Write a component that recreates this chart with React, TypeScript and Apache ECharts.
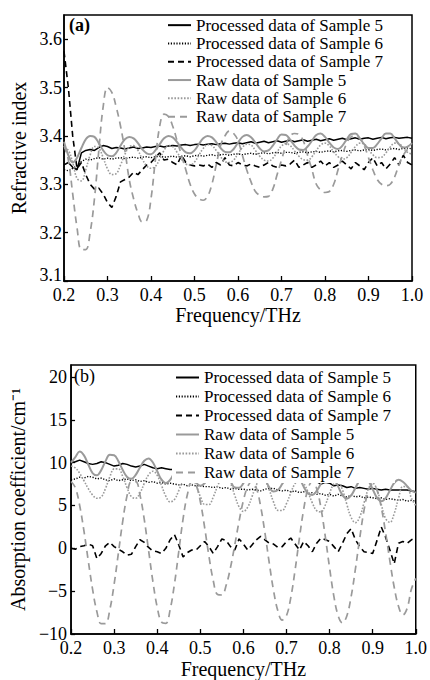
import React, { useEffect, useRef } from 'react';
import * as echarts from 'echarts';

const SERIF = 'Liberation Serif, Times New Roman, serif';

const seriesNames = [
  'Processed data of Sample 5',
  'Processed data of Sample 6',
  'Processed data of Sample 7',
  'Raw data of Sample 5',
  'Raw data of Sample 6',
  'Raw data of Sample 7',
];

const freq = [
  0.20, 0.21, 0.22, 0.23, 0.24, 0.25, 0.26, 0.27, 0.28, 0.29,
  0.30, 0.31, 0.32, 0.33, 0.34, 0.35, 0.36, 0.37, 0.38, 0.39,
  0.40, 0.41, 0.42, 0.43, 0.44, 0.45, 0.46, 0.47, 0.48, 0.49,
  0.50, 0.51, 0.52, 0.53, 0.54, 0.55, 0.56, 0.57, 0.58, 0.59,
  0.60, 0.61, 0.62, 0.63, 0.64, 0.65, 0.66, 0.67, 0.68, 0.69,
  0.70, 0.71, 0.72, 0.73, 0.74, 0.75, 0.76, 0.77, 0.78, 0.79,
  0.80, 0.81, 0.82, 0.83, 0.84, 0.85, 0.86, 0.87, 0.88, 0.89,
  0.90, 0.91, 0.92, 0.93, 0.94, 0.95, 0.96, 0.97, 0.98, 0.99,
  1.00,
];

// (a) Refractive index
const refProcessed5 = [
  3.340, 3.345, 3.335, 3.330, 3.365, 3.370, 3.372, 3.370, 3.376, 3.380,
  3.378, 3.374, 3.376, 3.375, 3.373, 3.375, 3.377, 3.374, 3.375, 3.377,
  3.376, 3.378, 3.379, 3.377, 3.379, 3.380, 3.379, 3.381, 3.382, 3.380,
  3.382, 3.383, 3.381, 3.383, 3.384, 3.382, 3.384, 3.385, 3.383, 3.385,
  3.386, 3.384, 3.386, 3.388, 3.385, 3.387, 3.389, 3.386, 3.388, 3.390,
  3.387, 3.389, 3.391, 3.388, 3.390, 3.392, 3.389, 3.391, 3.393, 3.390,
  3.392, 3.394, 3.391, 3.393, 3.395, 3.392, 3.394, 3.396, 3.393, 3.395,
  3.396, 3.393, 3.395, 3.397, 3.394, 3.396, 3.397, 3.395, 3.396, 3.397,
  3.395,
];
const refProcessed6 = [
  3.330, 3.328, 3.333, 3.338, 3.347, 3.352, 3.350, 3.353, 3.355, 3.352,
  3.354, 3.352, 3.354, 3.355, 3.353, 3.355, 3.356, 3.354, 3.356, 3.357,
  3.355, 3.357, 3.358, 3.356, 3.357, 3.358, 3.356, 3.358, 3.359, 3.357,
  3.359, 3.360, 3.358, 3.360, 3.361, 3.359, 3.361, 3.362, 3.360, 3.362,
  3.363, 3.361, 3.363, 3.364, 3.362, 3.364, 3.365, 3.363, 3.365, 3.366,
  3.364, 3.366, 3.366, 3.364, 3.366, 3.367, 3.365, 3.367, 3.368, 3.366,
  3.368, 3.369, 3.367, 3.369, 3.370, 3.368, 3.370, 3.371, 3.369, 3.371,
  3.372, 3.370, 3.372, 3.373, 3.371, 3.373, 3.374, 3.372, 3.374, 3.375,
  3.373,
];
const refProcessed7 = [
  3.575, 3.500, 3.400, 3.332, 3.345, 3.320, 3.300, 3.290, 3.292, 3.280,
  3.262, 3.252, 3.275, 3.305, 3.310, 3.315, 3.325, 3.320, 3.330, 3.340,
  3.345, 3.355, 3.365, 3.350, 3.352, 3.345, 3.340, 3.360, 3.345, 3.340,
  3.338, 3.340, 3.338, 3.342, 3.335, 3.345, 3.340, 3.355, 3.340, 3.338,
  3.345, 3.340, 3.338, 3.342, 3.338, 3.335, 3.340, 3.345, 3.338, 3.335,
  3.340, 3.338, 3.342, 3.350, 3.335, 3.340, 3.345, 3.335, 3.340, 3.348,
  3.338, 3.345, 3.335, 3.340, 3.348, 3.340, 3.332, 3.345, 3.338, 3.330,
  3.345, 3.355, 3.338, 3.345, 3.332, 3.342, 3.355, 3.340, 3.360, 3.345,
  3.340,
];
const refRaw5 = [
  3.388, 3.360, 3.345, 3.355, 3.375, 3.393, 3.400, 3.398, 3.385, 3.370,
  3.360, 3.358, 3.365, 3.380, 3.393, 3.398, 3.395, 3.385, 3.372, 3.364,
  3.362, 3.370, 3.383, 3.395, 3.400, 3.397, 3.387, 3.375, 3.366, 3.364,
  3.370, 3.383, 3.395, 3.400, 3.397, 3.387, 3.375, 3.367, 3.366, 3.373,
  3.386, 3.398, 3.402, 3.397, 3.386, 3.374, 3.368, 3.370, 3.380, 3.393,
  3.403, 3.402, 3.392, 3.380, 3.372, 3.371, 3.378, 3.390, 3.402, 3.405,
  3.398, 3.386, 3.376, 3.373, 3.380, 3.393, 3.404, 3.405, 3.395, 3.383,
  3.375, 3.375, 3.383, 3.395, 3.405, 3.405, 3.395, 3.383, 3.376, 3.378,
  3.385,
];
const refRaw6 = [
  3.375, 3.370, 3.345, 3.312, 3.307, 3.330, 3.360, 3.378, 3.375, 3.355,
  3.332, 3.320, 3.322, 3.340, 3.362, 3.377, 3.380, 3.370, 3.352, 3.338,
  3.333, 3.337, 3.352, 3.370, 3.380, 3.378, 3.366, 3.352, 3.342, 3.340,
  3.346, 3.360, 3.374, 3.382, 3.380, 3.370, 3.357, 3.347, 3.345, 3.350,
  3.363, 3.376, 3.383, 3.381, 3.370, 3.358, 3.350, 3.348, 3.354, 3.367,
  3.379, 3.384, 3.380, 3.369, 3.358, 3.351, 3.350, 3.357, 3.370, 3.381,
  3.385, 3.379, 3.367, 3.357, 3.352, 3.355, 3.366, 3.378, 3.385, 3.383,
  3.372, 3.361, 3.355, 3.356, 3.365, 3.377, 3.385, 3.384, 3.375, 3.366,
  3.362,
];
const refRaw7 = [
  3.380, 3.350, 3.280, 3.210, 3.165, 3.165, 3.200, 3.270, 3.370, 3.460,
  3.500, 3.490, 3.460, 3.420, 3.370, 3.310, 3.270, 3.240, 3.222, 3.225,
  3.270, 3.350, 3.420, 3.445, 3.440, 3.420, 3.390, 3.360, 3.330, 3.300,
  3.280, 3.270, 3.267, 3.275, 3.300, 3.340, 3.380, 3.400, 3.410, 3.405,
  3.390, 3.360, 3.330, 3.305, 3.285, 3.277, 3.274, 3.275, 3.290, 3.320,
  3.350, 3.380, 3.400, 3.405, 3.403, 3.390, 3.360, 3.330, 3.300, 3.288,
  3.283, 3.285, 3.300, 3.330, 3.360, 3.385, 3.398, 3.400, 3.395, 3.380,
  3.355, 3.330, 3.310, 3.300, 3.297, 3.300, 3.315, 3.340, 3.360, 3.372,
  3.375,
];

// (b) Absorption coefficient
const absProcessed5 = [
  10.0, 10.1, 10.3, 10.1, 9.9, 9.8, 9.9, 10.1, 10.0, 9.8,
  9.6, 9.7, 9.9, 9.8, 9.6, 9.5, 9.6, 9.8, 9.6, 9.4,
  9.3, 9.4, 9.3, 9.2, 9.2, 9.1, 9.1, 9.0, 9.0, 8.9,
  8.9, 8.8, 8.8, 8.7, 8.7, 8.6, 8.6, 8.5, 8.5, 8.5,
  8.4, 8.4, 8.4, 8.3, 8.3, 8.3, 8.2, 8.2, 8.2, 8.1,
  8.1, 8.1, 8.0, 8.0, 7.9, 7.7, 7.9, 7.8, 7.5, 7.7,
  7.6, 7.3, 7.4, 7.3, 7.1, 7.2, 7.0, 7.1, 7.0, 6.9,
  7.0, 6.9, 6.8, 6.9, 6.8, 6.8, 6.8, 6.8, 6.8, 6.7,
  6.6,
];
const absProcessed6 = [
  8.0, 8.1, 8.3, 8.2, 8.4, 8.3, 8.1, 8.2, 8.0, 7.9,
  8.1, 7.9, 8.0, 8.1, 7.9, 8.0, 7.8, 7.9, 7.7, 7.8,
  7.6, 7.7, 7.5, 7.6, 7.5, 7.4, 7.5, 7.3, 7.4, 7.3,
  7.3, 7.2, 7.2, 7.1, 7.2, 7.0, 7.1, 6.9, 7.0, 6.9,
  6.9, 6.8, 6.9, 6.8, 6.7, 6.9, 7.0, 7.0, 6.8, 6.7,
  6.8, 6.6, 6.7, 6.5, 6.6, 6.4, 6.5, 6.3, 6.4, 6.2,
  6.3, 6.1, 6.3, 6.1, 6.0, 6.2, 6.0, 6.1, 5.9, 6.0,
  5.9, 5.8, 5.9, 5.7, 5.8, 5.7, 5.6, 5.7, 5.5, 5.6,
  5.5,
];
const absProcessed7 = [
  0.0, -0.1, 0.2, 0.3, 0.5, 0.3, -1.2, -0.6, 0.3, 0.7,
  0.2, -0.1, -0.4, -0.8, -0.7, 0.2, 1.0, 0.7, 0.1, -0.3,
  -0.4, -0.6, 0.0, 1.0, 1.6, 0.4, -1.0, -0.5, -0.2, -0.2,
  0.3, 0.8, 0.2, -0.6, 0.2, 1.1, 0.9, 0.2, -0.2, 1.1,
  0.5, -0.2, 0.4, 1.0, 1.4, 1.0, 0.6, 0.5, 0.1, 0.2,
  0.8, 1.2, 0.5, -0.2, 0.8, 0.3, -0.4, 0.6, 1.2, 1.0,
  0.8, 0.2, -0.4, 0.6, 1.7, 2.3, 1.0, 0.2, -0.4, -0.5,
  -0.6, 0.9, 2.5, 1.3, -0.2, -1.8, 0.6, 0.8, 0.6, 1.0,
  1.2,
];
const absRaw5 = [
  10.0, 10.65, 11.3, 10.85, 9.79, 8.79, 8.52, 9.13, 10.18, 10.92,
  10.87, 10.15, 9.14, 8.33, 8.11, 8.57, 9.44, 10.22, 10.5, 10.02,
  8.99, 8.01, 7.6, 7.98, 8.9, 9.82, 10.2, 9.78, 8.75, 7.72,
  7.3, 7.59, 8.33, 9.18, 9.73, 9.69, 8.93, 7.87, 7.11, 7.07,
  7.6, 8.41, 9.12, 9.4, 9.03, 8.1, 7.13, 6.62, 6.8, 7.5,
  8.35, 8.92, 8.9, 8.21, 7.19, 6.39, 6.23, 6.7, 7.53, 8.29,
  8.6, 8.19, 7.2, 6.21, 5.8, 6.17, 7.05, 7.94, 8.3, 7.89,
  6.9, 5.91, 5.5, 5.87, 6.75, 7.63, 8.0, 7.78, 7.25, 6.72,
  6.5,
];
const absRaw6 = [
  9.6, 9.38, 8.76, 7.89, 6.97, 6.23, 5.84, 5.99, 6.99, 8.34,
  9.27, 9.27, 8.38, 7.07, 6.04, 5.84, 6.47, 7.58, 8.59, 9.0,
  8.52, 7.33, 6.08, 5.42, 5.7, 6.74, 7.95, 8.66, 8.45, 7.39,
  6.05, 5.13, 5.12, 5.99, 7.26, 8.27, 8.45, 7.62, 6.17, 4.84,
  4.3, 4.8, 6.04, 7.38, 8.15, 7.94, 6.82, 5.4, 4.43, 4.41,
  5.23, 6.47, 7.57, 8.0, 7.59, 6.54, 5.3, 4.4, 4.25, 5.06,
  6.42, 7.53, 7.74, 6.8, 5.14, 3.61, 3.0, 3.67, 5.3, 6.93,
  7.6, 6.86, 5.11, 3.48, 3.03, 4.06, 5.84, 7.21, 7.17, 5.83,
  5.0,
];
const absRaw7 = [
  7.8, 7.07, 5.0, 2.0, -1.47, -4.8, -7.4, -8.8, -8.79, -7.15,
  -4.19, -0.5, 3.19, 6.15, 7.79, 7.79, 6.2, 3.34, -0.27, -3.9,
  -6.88, -8.6, -8.75, -7.15, -4.16, -0.37, 3.44, 6.28, 7.72, 7.38,
  5.47, 2.45, -0.91, -3.75, -5.39, -5.45, -4.32, -2.25, 0.4, 3.17,
  5.59, 7.22, 7.8, 7.04, 4.9, 1.8, -1.7, -4.95, -7.3, -8.37,
  -7.85, -5.75, -2.52, 1.19, 4.58, 6.95, 7.8, 6.98, 4.7, 1.39,
  -2.28, -5.6, -7.88, -8.7, -7.89, -5.65, -2.4, 1.2, 4.45, 6.69,
  7.5, 6.78, 4.76, 1.84, -1.48, -4.54, -6.77, -7.77, -7.0, -4.74,
  -3.5,
];

const refSets = [refProcessed5, refProcessed6, refProcessed7, refRaw5, refRaw6, refRaw7];
const absSets = [absProcessed5, absProcessed6, absProcessed7, absRaw5, absRaw6, absRaw7];

const lineStyles: any[] = [
  { color: '#000000', width: 1.5, type: 'solid' },
  { color: '#000000', width: 1.4, type: [1.2, 1.6] },
  { color: '#000000', width: 1.6, type: [6, 4] },
  { color: '#9a9a9a', width: 2, type: 'solid' },
  { color: '#9a9a9a', width: 1.6, type: [1.6, 1.6] },
  { color: '#9a9a9a', width: 1.7, type: [7, 5] },
];
const smoothFlags = [false, false, false, true, true, true];

export default function App() {
  const ref = useRef<HTMLDivElement>(null);

  useEffect(() => {
    if (!ref.current) return;
    const chart = echarts.init(ref.current, null, { renderer: 'svg' });

    const axisLine = { show: true, onZero: false, lineStyle: { color: '#000', width: 1.5 } };
    const labelStyle = { fontFamily: SERIF, fontSize: 18, color: '#000' };
    const nameStyle = { fontFamily: SERIF, fontSize: 20, color: '#000' };
    const xTick = { show: true, inside: true, length: 5, lineStyle: { color: '#000', width: 1.3 } };
    const yTick = { show: true, inside: true, length: 4, lineStyle: { color: '#000', width: 1.3 } };

    const makeSeries = (sets: number[][], gridIdx: number) =>
      sets.map((arr, i) => ({
        name: seriesNames[i],
        type: 'line',
        xAxisIndex: gridIdx,
        yAxisIndex: gridIdx,
        data: freq.map((f, j) => [f, arr[j]]),
        showSymbol: false,
        symbol: 'none',
        smooth: smoothFlags[i] ? 0.4 : false,
        lineStyle: lineStyles[i],
        itemStyle: { color: lineStyles[i].color },
        clip: true,
        z: 2,
      }));

    const legendCommon = {
      orient: 'vertical',
      itemWidth: 23,
      itemHeight: 12,
      itemGap: 0,
      selectedMode: false,
      data: seriesNames,
      itemStyle: { color: 'transparent', borderWidth: 0, opacity: 0 },
    };

    chart.setOption({
      animation: false,
      backgroundColor: '#ffffff',
      grid: [
        { left: 64, top: 15, width: 348, height: 266, show: true, borderColor: '#000', borderWidth: 1.5, containLabel: false },
        { left: 69, top: 365, width: 348, height: 270, show: true, borderColor: '#000', borderWidth: 1.5, containLabel: false },
      ],
      xAxis: [
        {
          type: 'value', gridIndex: 0, min: 0.2, max: 1.0, interval: 0.1,
          name: 'Frequency/THz', nameLocation: 'middle', nameGap: 21, nameTextStyle: nameStyle,
          axisLabel: { ...labelStyle, margin: 5, formatter: (v: number) => v.toFixed(1) },
          axisLine, axisTick: xTick, splitLine: { show: false },
        },
        {
          type: 'value', gridIndex: 1, min: 0.2, max: 1.0, interval: 0.1,
          name: 'Frequency/THz', nameLocation: 'middle', nameGap: 25, nameTextStyle: nameStyle,
          axisLabel: { ...labelStyle, margin: 5, formatter: (v: number) => v.toFixed(1) },
          axisLine, axisTick: xTick, splitLine: { show: false },
        },
      ],
      yAxis: [
        {
          type: 'value', gridIndex: 0, min: 3.1, max: 3.65, interval: 0.1,
          name: 'Refractive index', nameLocation: 'middle', nameGap: 34, nameTextStyle: nameStyle,
          axisLabel: {
            ...labelStyle, margin: 2, showMaxLabel: false,
            formatter: (v: number) => (Math.abs(v - 3.1) < 1e-6 ? '{low|3.1}' : v.toFixed(1)),
            rich: { low: { fontFamily: SERIF, fontSize: 18, color: '#000', padding: [0, 0, 12, 0] } },
          },
          axisLine, axisTick: yTick, splitLine: { show: false },
        },
        {
          type: 'value', gridIndex: 1, min: -10, max: 21.4, interval: 5,
          name: 'Absorption coefficient/cm⁻¹', nameLocation: 'middle', nameGap: 38, nameTextStyle: nameStyle,
          axisLabel: {
            ...labelStyle, margin: 4, showMaxLabel: false,
            formatter: (v: number) => String(v).replace('-', '−'),
          },
          axisLine, axisTick: yTick, splitLine: { show: false },
        },
      ],
      legend: [
        {
          ...legendCommon,
          left: 167, top: 16, padding: 0,
          textStyle: { fontFamily: SERIF, fontSize: 17, color: '#000', lineHeight: 18.3 },
        },
        {
          ...legendCommon,
          left: 172, top: 366, padding: [2, 4, 1, 3],
          backgroundColor: '#ffffff',
          textStyle: { fontFamily: SERIF, fontSize: 17, color: '#000', lineHeight: 19 },
        },
      ],
      graphic: [
        { type: 'text', left: 69, top: 16, z: 10, style: { text: '(a)', fontFamily: SERIF, fontSize: 18, fontWeight: 'bold', fill: '#000' } },
        { type: 'text', left: 74, top: 367, z: 10, style: { text: '(b)', fontFamily: SERIF, fontSize: 18, fill: '#000' } },
      ],
      series: [...makeSeries(refSets, 0), ...makeSeries(absSets, 1)],
    });

    return () => chart.dispose();
  }, []);

  return (
    <div
      ref={ref}
      style={{ position: 'fixed', left: 0, top: 0, width: 430, height: 680, background: '#fff' }}
    />
  );
}
